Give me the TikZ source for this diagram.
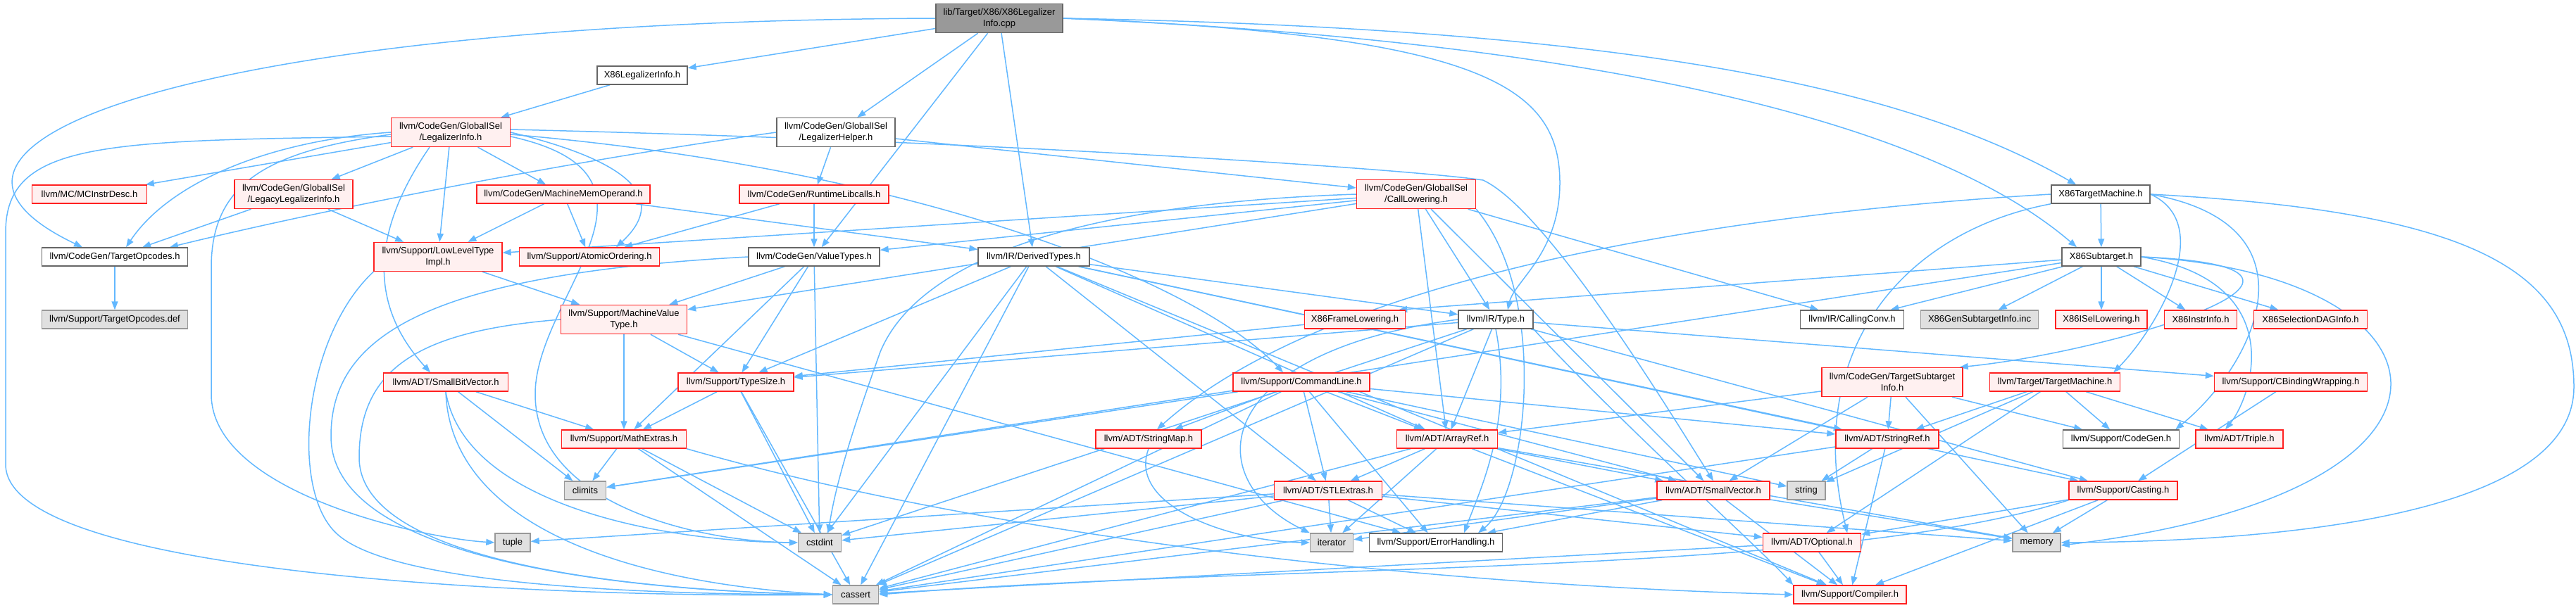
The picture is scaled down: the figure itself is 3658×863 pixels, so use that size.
\documentclass[tikz,border=0pt]{standalone}
\usepackage{fontspec}
\setmainfont{Liberation Sans}
\usetikzlibrary{arrows.meta}
\definecolor{edgec}{HTML}{63B8FF}
\definecolor{redb}{HTML}{FF2020}
\definecolor{redf}{HTML}{FFF0F0}
\definecolor{grayb}{HTML}{999999}
\definecolor{grayf}{HTML}{E0E0E0}
\definecolor{whiteb}{HTML}{666666}
\definecolor{rootf}{HTML}{999999}
\pgfdeclarelayer{bg}
\pgfsetlayers{bg,main}
\begin{document}
\begin{tikzpicture}[x=1pt,y=-1pt,
  box/.style={draw, line width=1.4pt, font=\fontsize{13}{15.5}\selectfont, align=center, minimum height=26pt, inner xsep=3pt, inner ysep=1pt},
  rbox/.style={box, draw=redb, fill=redf},
  gbox/.style={box, draw=grayb, fill=grayf},
  wbox/.style={box, draw=whiteb, fill=white},
  rootbox/.style={box, draw=whiteb, fill=rootf},
  tall/.style={minimum height=41pt},
  e/.style={draw=edgec, line width=1.5pt, -{Triangle[length=12pt,width=9pt]}}]
\useasboundingbox (0,0) rectangle (3658,863);
% row 1-3
\node[rootbox, minimum width=180pt, tall] (r) at (1419,26) {lib/Target/X86/X86Legalizer\\Info.cpp};
\node[wbox, minimum width=128pt] (xli) at (912,107) {X86LegalizerInfo.h};
\node[rbox, minimum width=169pt, tall] (lgi) at (640,188) {llvm/CodeGen/GlobalISel\\/LegalizerInfo.h};
\node[wbox, minimum width=168pt, tall] (lh) at (1187,188) {llvm/CodeGen/GlobalISel\\/LegalizerHelper.h};
% row 4
\node[rbox, minimum width=163pt] (mcid) at (127,276) {llvm/MC/MCInstrDesc.h};
\node[rbox, minimum width=168pt, tall] (legacy) at (417,276) {llvm/CodeGen/GlobalISel\\/LegacyLegalizerInfo.h};
\node[rbox, minimum width=246pt] (mmo) at (800,276) {llvm/CodeGen/MachineMemOperand.h};
\node[rbox, minimum width=212pt] (rtl) at (1156,276) {llvm/CodeGen/RuntimeLibcalls.h};
\node[rbox, minimum width=169pt, tall] (cll) at (2011,276) {llvm/CodeGen/GlobalISel\\/CallLowering.h};
\node[wbox, minimum width=140pt] (xtm) at (2983,276) {X86TargetMachine.h};
% row 5
\node[wbox, minimum width=207pt] (opc) at (163,365) {llvm/CodeGen/TargetOpcodes.h};
\node[rbox, minimum width=182pt, tall] (llt) at (622,365) {llvm/Support/LowLevelType\\Impl.h};
\node[rbox, minimum width=199pt] (atomic) at (837,365) {llvm/Support/AtomicOrdering.h};
\node[wbox, minimum width=186pt] (vt) at (1156,365) {llvm/CodeGen/ValueTypes.h};
\node[wbox, minimum width=158pt] (dt) at (1468,365) {llvm/IR/DerivedTypes.h};
\node[wbox, minimum width=112pt] (xst) at (2984,365) {X86Subtarget.h};
% row 6
\node[gbox, minimum width=207pt] (opcdef) at (163,454) {llvm/Support/TargetOpcodes.def};
\node[rbox, minimum width=179pt, tall] (mvt) at (886,454) {llvm/Support/MachineValue\\Type.h};
\node[rbox, minimum width=143pt] (xfl) at (1924,454) {X86FrameLowering.h};
\node[wbox, minimum width=106pt] (type) at (2124,454) {llvm/IR/Type.h};
\node[wbox, minimum width=147pt] (cc) at (2630,454) {llvm/IR/CallingConv.h};
\node[gbox, minimum width=167pt] (gsi) at (2811,454) {X86GenSubtargetInfo.inc};
\node[rbox, minimum width=130pt] (isel) at (2984,454) {X86ISelLowering.h};
\node[rbox, minimum width=103pt] (ii) at (3125,454) {X86InstrInfo.h};
\node[rbox, minimum width=161pt] (sdag) at (3281,454) {X86SelectionDAGInfo.h};
% row 7
\node[rbox, minimum width=177pt] (sbv) at (633,543) {llvm/ADT/SmallBitVector.h};
\node[rbox, minimum width=164pt] (ts) at (1045,543) {llvm/Support/TypeSize.h};
\node[rbox, minimum width=194pt] (cl) at (1848,543) {llvm/Support/CommandLine.h};
\node[rbox, minimum width=200pt, tall] (tsi) at (2687,543) {llvm/CodeGen/TargetSubtarget\\Info.h};
\node[rbox, minimum width=185pt] (tm) at (2918,543) {llvm/Target/TargetMachine.h};
\node[rbox, minimum width=217pt] (cbw) at (3253,543) {llvm/Support/CBindingWrapping.h};
% row 8
\node[rbox, minimum width=177pt] (mathx) at (886,624) {llvm/Support/MathExtras.h};
\node[rbox, minimum width=150pt] (sm) at (1631,624) {llvm/ADT/StringMap.h};
\node[rbox, minimum width=143pt] (ar) at (2055,624) {llvm/ADT/ArrayRef.h};
\node[rbox, minimum width=146pt] (sr) at (2680,624) {llvm/ADT/StringRef.h};
\node[wbox, minimum width=165pt] (cg) at (3012,624) {llvm/Support/CodeGen.h};
\node[rbox, minimum width=124pt] (tri) at (3180,624) {llvm/ADT/Triple.h};
% row 9
\node[gbox, minimum width=59pt] (climits) at (831,697) {climits};
\node[rbox, minimum width=153pt] (stl) at (1886,697) {llvm/ADT/STLExtras.h};
\node[rbox, minimum width=160pt] (sv) at (2433,697) {llvm/ADT/SmallVector.h};
\node[gbox, minimum width=54pt] (string) at (2565,697) {string};
\node[rbox, minimum width=154pt] (cast) at (3015,697) {llvm/Support/Casting.h};
% row 10
\node[gbox, minimum width=50pt] (tuple) at (728,771) {tuple};
\node[gbox, minimum width=61pt] (cstdint) at (1164,771) {cstdint};
\node[gbox, minimum width=61pt] (iter) at (1891,771) {iterator};
\node[wbox, minimum width=189pt] (eh) at (2039,771) {llvm/Support/ErrorHandling.h};
\node[rbox, minimum width=139pt] (opt) at (2573,771) {llvm/ADT/Optional.h};
\node[gbox, minimum width=68pt] (mem) at (2892,771) {memory};
% row 11
\node[gbox, minimum width=65pt] (cassert) at (1215,845) {cassert};
\node[rbox, minimum width=160pt] (comp) at (2627,845) {llvm/Support/Compiler.h};

\begin{pgfonlayer}{bg}
% root
\draw[e] (r) -- (xli);
\draw[e] (r) -- (lh);
\draw[e] (r.west) .. controls (300,30) and (-200,200) .. ([xshift=-46pt]opc.north);
\draw[e] (r) -- (vt);
\draw[e] (r) -- (dt);
\draw[e] (r.east) .. controls (2100,50) and (2215,120) .. (2215,260) .. controls (2215,360) and (2150,400) .. ([xshift=17pt]type.north);
\draw[e] (r.east) .. controls (2300,40) and (2700,120) .. ([xshift=-35pt]xtm.north);
\draw[e] (r.east) .. controls (2300,60) and (2750,180) .. ([xshift=-35pt]xst.north);
\draw[e] (xli) -- (lgi);
% LegalizerInfo
\draw[e] (lgi) -- (mcid);
\draw[e] (lgi) -- (legacy);
\draw[e] (lgi) -- (mmo);
\draw[e] (lgi) -- (llt);
\draw[e] (lgi.west) .. controls (380,200) and (240,260) .. ([xshift=16pt]opc.north);
\draw[e] ([yshift=-6pt]lgi.west) .. controls (150,200) and (8,200) .. (8,330) -- (8,660) .. controls (8,820) and (800,850) .. (cassert.west);
\draw[e] ([yshift=-3pt]lgi.west) .. controls (380,215) and (300,260) .. (300,380) -- (300,560) .. controls (300,700) and (600,765) .. (tuple.west);
\draw[e] ([xshift=-30pt]lgi.south) .. controls (520,340) and (530,440) .. ([xshift=-22pt]sbv.north);
\draw[e] (lgi.east) .. controls (940,240) and (930,300) .. ([xshift=38pt]atomic.north);
\draw[e] ([yshift=-6pt]lgi.east) .. controls (980,250) and (760,420) .. (760,560) .. controls (760,720) and (1000,770) .. (cstdint.west);
\draw[e] ([yshift=-3pt]lgi.east) .. controls (1300,240) and (1700,400) .. ([xshift=-26pt]cl.north);
\draw[e] ([yshift=4pt]lgi.east) .. controls (1400,200) and (2000,240) .. (2106,256) .. controls (2200,300) and (2380,600) .. (sv.north);
% LegalizerHelper
\draw[e] (lh.west) .. controls (800,230) and (450,300) .. ([xshift=78pt]opc.north);
\draw[e] (lh) -- (rtl);
\draw[e] (lh) -- (cll);
\draw[e] (legacy) -- (opc);
\draw[e] (legacy) -- (llt);
\draw[e] (mmo) -- (llt);
\draw[e] (mmo) -- (atomic);
\draw[e] (mmo) -- (dt);
\draw[e] (rtl) -- (vt);
\draw[e] (rtl) -- (atomic);
\draw[e] (opc) -- (opcdef);
% CallLowering
\draw[e] (cll) -- (llt);
\draw[e] (cll) -- (vt);
\draw[e] (cll) -- (mvt);
\draw[e] (cll.west) .. controls (1500,290) and (1300,380) .. (1250,500) .. controls (1200,640) and (1185,700) .. ([xshift=12pt]cstdint.north);
\draw[e] (cll) -- (type);
\draw[e] (cll) -- (ar);
\draw[e] (cll) -- (sv);
\draw[e] (cll) -- (cc);
\draw[e] (cll.south east) .. controls (2200,420) and (2170,700) .. ([xshift=60pt]eh.north);
% ValueTypes
\draw[e] (vt) -- (mvt);
\draw[e] (vt) -- (mathx);
\draw[e] (vt) -- (ts);
\draw[e] (vt) -- (cstdint);
\draw[e] (vt.west) .. controls (600,390) and (470,480) .. (470,620) .. controls (470,800) and (900,840) .. (cassert.west);
% MachineValueType
\draw[e] (mvt) -- (ts);
\draw[e] (mvt) -- (mathx);
\draw[e] (mvt.west) .. controls (600,470) and (510,520) .. (510,650) .. controls (510,800) and (900,840) .. (cassert.west);
\draw[e] (mvt) -- (eh);
% LowLevelType
\draw[e] (llt) -- (mvt);
\draw[e] (llt.south west) .. controls (430,480) and (410,700) .. (480,760) .. controls (560,830) and (900,845) .. (cassert.west);
% SmallBitVector
\draw[e] (sbv) -- (mathx);
\draw[e] (sbv) -- (climits);
\draw[e] (sbv.south) .. controls (640,750) and (900,830) .. (cassert.west);
\draw[e] (sbv.south) .. controls (660,720) and (950,770) .. (cstdint.west);
% TypeSize
\draw[e] (ts) -- (mathx);
\draw[e] (ts) -- (cstdint);
\draw[e] (ts) -- (cassert);
% MathExtras
\draw[e] (mathx) -- (climits);
\draw[e] (mathx) -- (cstdint);
\draw[e] (mathx) -- (cassert);
\draw[e] (mathx.south east) .. controls (1400,760) and (2000,830) .. (comp.west);
% DerivedTypes
\draw[e] (dt) -- (type);
\draw[e] (dt) -- (ar);
\draw[e] (dt) -- (stl);
\draw[e] (dt) -- (sr);
\draw[e] (dt) -- (ts);
\draw[e] (dt) -- (cast);
\draw[e] (dt) -- (comp);
\draw[e] (dt) -- (cassert);
\draw[e] (dt) -- (cstdint);
% Type
\draw[e] (type) -- (ar);
\draw[e] (type) -- (cbw);
\draw[e] (type) -- (cast);
\draw[e] (type.south east) .. controls (2300,600) and (2500,780) .. (comp.north west);
\draw[e] (type.south) .. controls (2150,600) and (2100,700) .. ([xshift=40pt]eh.north);
\draw[e] (type) -- (ts);
\draw[e] (type) -- (cassert);
\draw[e] (type) -- (cstdint);
\draw[e] (type.west) .. controls (1720,500) and (1700,680) .. (iter.north west);
\draw[e] (xfl) -- (ts);
% CommandLine
\draw[e] (cl) -- (sm);
\draw[e] (cl) -- (ar);
\draw[e] (cl) -- (stl);
\draw[e] (cl) -- (eh);
\draw[e] (cl) -- (sv);
\draw[e] (cl) -- (sr);
\draw[e] (cl) -- (string);
\draw[e] (cl) -- (cassert);
\draw[e] (cl) -- (climits);
\draw[e] (sm.south) .. controls (1600,720) and (1750,770) .. (iter.west);
% ArrayRef
\draw[e] (ar) -- (stl);
\draw[e] (ar) -- (sv);
\draw[e] (ar) -- (comp);
\draw[e] (ar) -- (iter);
\draw[e] (ar) -- (cassert);
\draw[e] (ar) -- (mem);
% STLExtras
\draw[e] (stl) -- (iter);
\draw[e] (stl) -- (eh);
\draw[e] (stl) -- (cassert);
\draw[e] (stl) -- (cstdint);
\draw[e] (stl) -- (tuple);
\draw[e] (stl) -- (opt);
\draw[e] (stl) -- (mem);
% SmallVector
\draw[e] (sv) -- (comp);
\draw[e] (sv) -- (eh);
\draw[e] (sv) -- (cassert);
\draw[e] (sv) -- (iter);
\draw[e] (sv) -- (mem);
% StringRef
\draw[e] (sr) -- (string);
\draw[e] (sr) -- (comp);
\draw[e] (sr) -- (cassert);
% Optional, Casting, CBinding
\draw[e] (opt) -- (comp);
\draw[e] (opt) -- (cassert);
\draw[e] (cast) -- (mem);
\draw[e] (cast) -- (comp);
\draw[e] (cast) -- (opt);
\draw[e] (cast.south west) .. controls (2600,820) and (1800,800) .. (cassert.east);
\draw[e] (cbw) -- (cast);
% TargetSubtargetInfo, TargetMachine
\draw[e] (tsi) -- (ar);
\draw[e] (tsi) -- (sv);
\draw[e] (tsi) -- (sr);
\draw[e] (tsi) -- (cg);
\draw[e] (tsi) -- (mem);
\draw[e] (tm) -- (sr);
\draw[e] (tm) -- (tri);
\draw[e] (tm) -- (cg);
\draw[e] (tm) -- (string);
\draw[e] (tm) -- (opt);
% X86TargetMachine
\draw[e] (xtm) -- (xst);
\draw[e] (xtm.east) .. controls (3150,320) and (3060,470) .. ([xshift=-10pt]tm.north east);
\draw[e] (xtm.east) .. controls (3300,320) and (3200,520) .. ([xshift=-6pt]cg.north east);
\draw[e] (xtm.south west) .. controls (2700,330) and (2560,500) .. ([xshift=-20pt]opt.north east);
\draw[e] (xtm.east) .. controls (3500,300) and (3655,380) .. (3655,550) .. controls (3655,760) and (3100,770) .. (mem.east);
\draw[e] (xtm.west) .. controls (2500,300) and (1900,380) .. ([xshift=12pt]sm.north);
% X86Subtarget
\draw[e] (xst) -- ([xshift=-10pt]xfl.north east);
\draw[e] (xst) -- (cc);
\draw[e] (xst) -- (gsi);
\draw[e] (xst) -- (isel);
\draw[e] (xst) -- (ii);
\draw[e] (xst) -- (sdag);
\draw[e] (xst.east) .. controls (3250,400) and (3200,560) .. ([xshift=-20pt]tri.north);
\draw[e] (xst.east) .. controls (3400,380) and (3000,500) .. ([xshift=-5pt]tsi.north east);
\draw[e] (xst) -- (climits);
\draw[e] (xst.east) .. controls (3500,390) and (3560,700) .. ([yshift=-4pt]mem.east);
\end{pgfonlayer}
\end{tikzpicture}
\end{document}
